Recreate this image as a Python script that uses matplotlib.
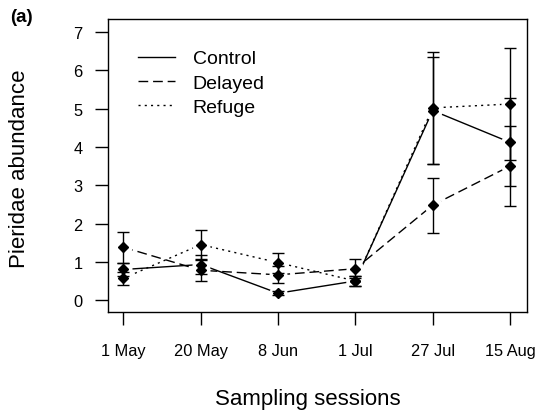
import matplotlib
matplotlib.use('Agg')
import matplotlib.pyplot as plt
import numpy as np

plt.rcParams['font.family'] = ['Liberation Sans', 'DejaVu Sans']

sessions = ['1 May', '20 May', '8 Jun', '1 Jul', '27 Jul', '15 Aug']
control = [0.80, 0.93, 0.18, 0.50, 4.95, 4.12]
control_se = [0.16, 0.25, 0.05, 0.13, 1.40, 1.15]
delayed = [1.38, 0.78, 0.66, 0.82, 2.48, 3.50]
delayed_se = [0.40, 0.28, 0.22, 0.25, 0.72, 1.05]
refuge = [0.57, 1.45, 0.98, 0.50, 5.02, 5.12]
refuge_se = [0.17, 0.38, 0.26, 0.12, 1.47, 1.45]

x = np.arange(1, len(sessions) + 1)

fig = plt.figure(figsize=(5.36, 4.14), dpi=100)
ax = fig.add_axes([108/536, 101/414, 419/536, 293/414])

series = [(control, control_se, 'Control', '-'),
          (delayed, delayed_se, 'Delayed', (0, (7, 3.5))),
          (refuge, refuge_se, 'Refuge', (0, (1.5, 3)))]

handles = []
for y, se, name, ls in series:
    h, = ax.plot(x, y, color='black', lw=1.0, ls=ls, zorder=1, label=name)
    handles.append(h)
# white halo to leave a gap round each point, like R type="b"
for y, se, name, ls in series:
    ax.plot(x, y, ls='none', marker='o', ms=13, mfc='white', mec='none', zorder=2)
for y, se, name, ls in series:
    ax.errorbar(x, y, yerr=se, fmt='none', ecolor='black', elinewidth=1.0,
                capsize=4, capthick=1.0, zorder=3)
    ax.plot(x, y, ls='none', marker='D', ms=5.5, color='black', zorder=4)

ax.set_xlim(0.8, 6.22)
ax.set_ylim(-0.31, 7.34)
ax.set_xticks(x)
ax.set_xticklabels(sessions)
ax.set_yticks(range(0, 8))
ax.tick_params(axis='both', length=9.4, width=1.0, labelsize=11.8, color='black')
ax.tick_params(axis='x', pad=13)
ax.tick_params(axis='y', pad=9)
for s in ax.spines.values():
    s.set_linewidth(1.0)

ax.legend(handles, ['Control', 'Delayed', 'Refuge'], loc='upper left',
          bbox_to_anchor=(0.072, 0.895), frameon=False, fontsize=14,
          handlelength=1.9, handletextpad=0.9, labelspacing=0.35,
          borderpad=0, borderaxespad=0)

fig.text(308/536, 1 - 405/414, 'Sampling sessions', ha='center', va='baseline', fontsize=16)
fig.text(20/536, 1 - 168.5/414, 'Pieridae abundance', ha='center', va='center',
         rotation=90, fontsize=16)
fig.text(10/536, 1 - 18/414, '(a)', ha='left', va='center', fontsize=13.5, weight='bold')

plt.savefig('out.png', dpi=100)
